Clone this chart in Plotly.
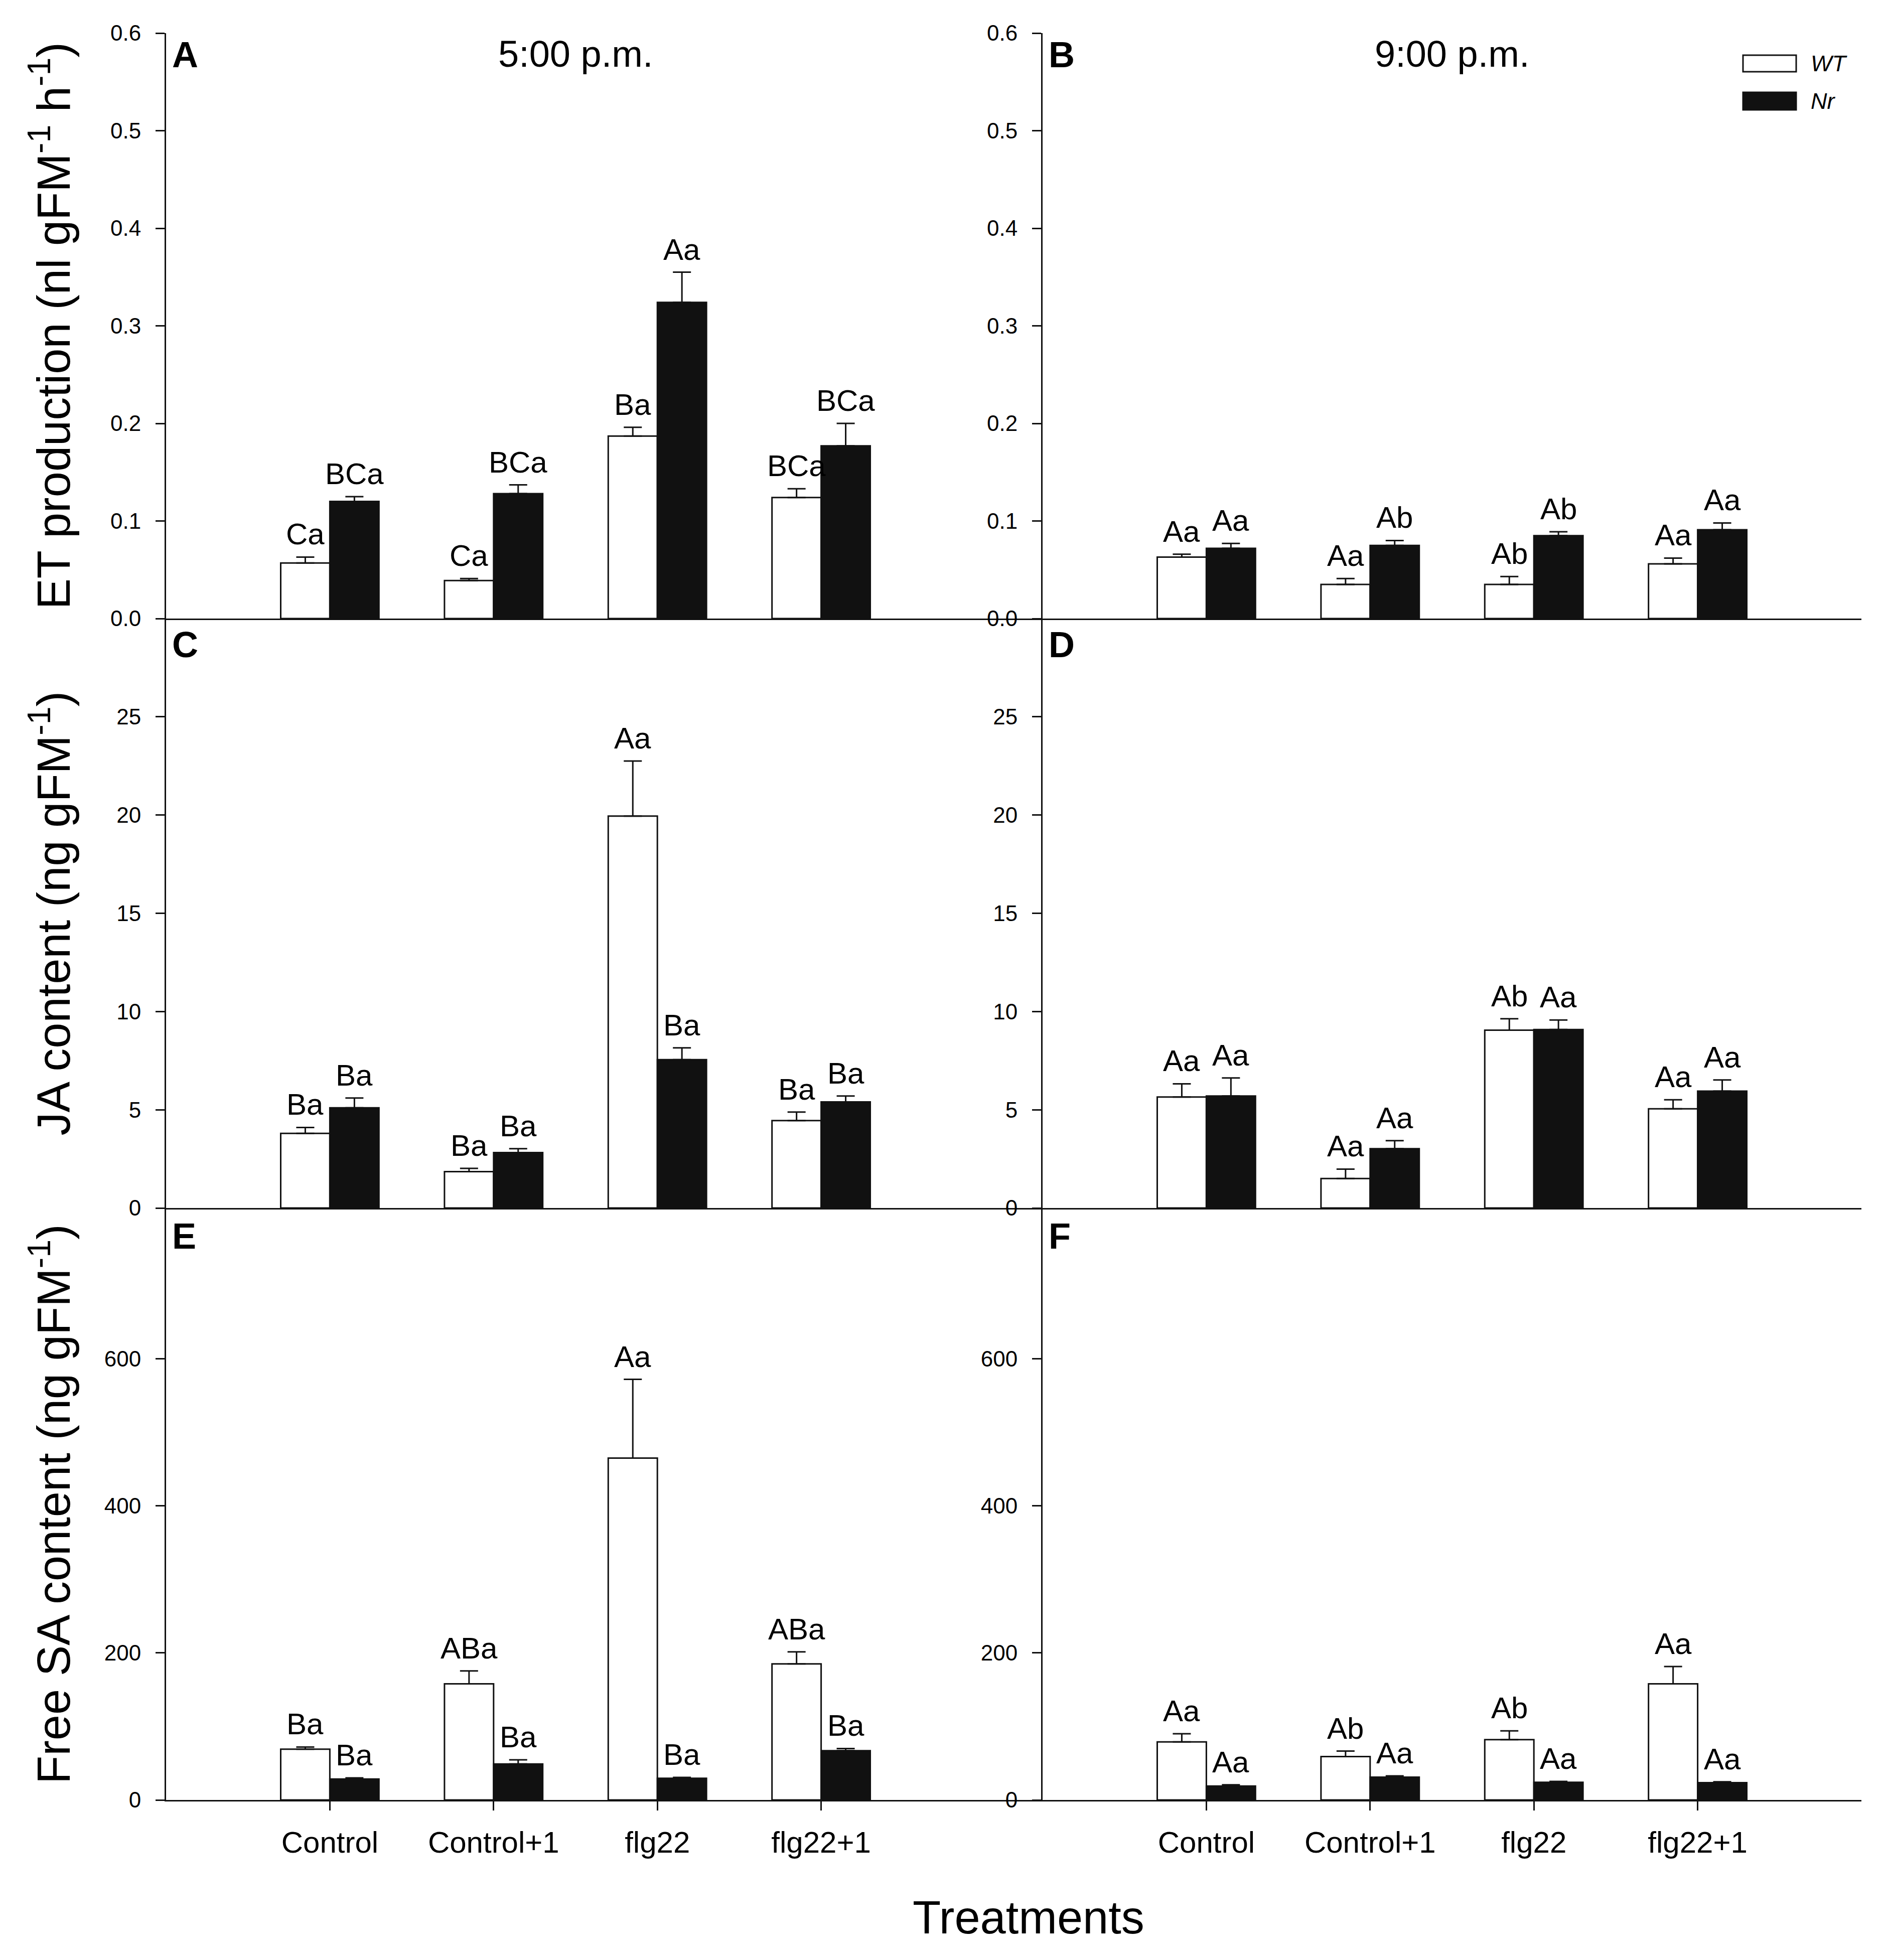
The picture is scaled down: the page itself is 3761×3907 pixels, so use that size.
import plotly.graph_objects as go
from plotly.subplots import make_subplots

# ---- data ----
categories = ["Control", "Control+1", "flg22", "flg22+1"]
xpos = [i + 1 for i in range(len(categories))]

# ET production (nl gFM-1 h-1)
et_5pm_wt = [0.057, 0.039, 0.187, 0.124]
et_5pm_wt_err = [0.006, 0.002, 0.009, 0.009]
et_5pm_nr = [0.120, 0.128, 0.324, 0.177]
et_5pm_nr_err = [0.005, 0.009, 0.031, 0.023]
et_9pm_wt = [0.063, 0.035, 0.035, 0.056]
et_9pm_wt_err = [0.003, 0.006, 0.008, 0.006]
et_9pm_nr = [0.072, 0.075, 0.085, 0.091]
et_9pm_nr_err = [0.005, 0.005, 0.004, 0.007]

# JA content (ng gFM-1)
ja_5pm_wt = [3.8, 1.85, 19.95, 4.45]
ja_5pm_wt_err = [0.3, 0.17, 2.8, 0.43]
ja_5pm_nr = [5.1, 2.82, 7.55, 5.4]
ja_5pm_nr_err = [0.5, 0.2, 0.6, 0.3]
ja_9pm_wt = [5.65, 1.5, 9.05, 5.05]
ja_9pm_wt_err = [0.67, 0.48, 0.58, 0.46]
ja_9pm_nr = [5.7, 3.02, 9.08, 5.95]
ja_9pm_nr_err = [0.92, 0.41, 0.49, 0.57]

# Free SA content (ng gFM-1)
sa_5pm_wt = [69, 158, 465, 185]
sa_5pm_wt_err = [3, 17.5, 107, 16.5]
sa_5pm_nr = [28.5, 49, 29.5, 67]
sa_5pm_nr_err = [1.5, 5.5, 1.2, 3]
sa_9pm_wt = [79, 59, 82, 158]
sa_9pm_wt_err = [11, 7.5, 12, 23.5]
sa_9pm_nr = [19, 31, 24, 23.5]
sa_9pm_nr_err = [1.6, 1.7, 1.2, 1.2]

# significance letters
et_5pm_wt_lbl = ["Ca", "Ca", "Ba", "BCa"]
et_5pm_nr_lbl = ["BCa", "BCa", "Aa", "BCa"]
et_9pm_wt_lbl = ["Aa", "Aa", "Ab", "Aa"]
et_9pm_nr_lbl = ["Aa", "Ab", "Ab", "Aa"]
ja_5pm_wt_lbl = ["Ba", "Ba", "Aa", "Ba"]
ja_5pm_nr_lbl = ["Ba", "Ba", "Ba", "Ba"]
ja_9pm_wt_lbl = ["Aa", "Aa", "Ab", "Aa"]
ja_9pm_nr_lbl = ["Aa", "Aa", "Aa", "Aa"]
sa_5pm_wt_lbl = ["Ba", "ABa", "Aa", "ABa"]
sa_5pm_nr_lbl = ["Ba", "Ba", "Ba", "Ba"]
sa_9pm_wt_lbl = ["Aa", "Ab", "Ab", "Aa"]
sa_9pm_nr_lbl = ["Aa", "Aa", "Aa", "Aa"]

# ---- layout constants (pixels of the 3761 x 3907 page) ----
W, H = 3761, 3907
OFF = 8  # default body margin of the html page
L, R, T, B = 331, 3710, 66, 3588
COL_SPLIT = 2078
ROW_SPLITS = [1233, 2408]
FONT = "Arial, Liberation Sans, sans-serif"
BAR_W = 0.3
BLACK = "#111111"


def px(x):
    return (x - L) / (R - L)


def py(y):
    return (B - y) / (B - T)


fig = make_subplots(
    rows=3, cols=2,
    column_widths=[COL_SPLIT - L, R - COL_SPLIT],
    row_heights=[ROW_SPLITS[0] - T, ROW_SPLITS[1] - ROW_SPLITS[0], B - ROW_SPLITS[1]],
    horizontal_spacing=0, vertical_spacing=0,
)

panels = [
    # row, col, wt, wt_err, nr, nr_err, wt_lbl, nr_lbl, letter
    (1, 1, et_5pm_wt, et_5pm_wt_err, et_5pm_nr, et_5pm_nr_err, et_5pm_wt_lbl, et_5pm_nr_lbl, "A"),
    (1, 2, et_9pm_wt, et_9pm_wt_err, et_9pm_nr, et_9pm_nr_err, et_9pm_wt_lbl, et_9pm_nr_lbl, "B"),
    (2, 1, ja_5pm_wt, ja_5pm_wt_err, ja_5pm_nr, ja_5pm_nr_err, ja_5pm_wt_lbl, ja_5pm_nr_lbl, "C"),
    (2, 2, ja_9pm_wt, ja_9pm_wt_err, ja_9pm_nr, ja_9pm_nr_err, ja_9pm_wt_lbl, ja_9pm_nr_lbl, "D"),
    (3, 1, sa_5pm_wt, sa_5pm_wt_err, sa_5pm_nr, sa_5pm_nr_err, sa_5pm_wt_lbl, sa_5pm_nr_lbl, "E"),
    (3, 2, sa_9pm_wt, sa_9pm_wt_err, sa_9pm_nr, sa_9pm_nr_err, sa_9pm_wt_lbl, sa_9pm_nr_lbl, "F"),
]

y_ranges = {1: [0, 0.6], 2: [0, 30], 3: [0, 805]}
y_ticks = {1: [0, 0.1, 0.2, 0.3, 0.4, 0.5, 0.6], 2: [0, 5, 10, 15, 20, 25], 3: [0, 200, 400, 600]}
letter_shift = {1: -43, 2: -52, 3: -56}
unit_px = (R - COL_SPLIT) / 5.0

for i, (row, col, wt, wt_err, nr, nr_err, wt_lbl, nr_lbl, letter) in enumerate(panels):
    k = i + 1
    xr = "x" if k == 1 else f"x{k}"
    yr = "y" if k == 1 else f"y{k}"

    fig.add_trace(go.Bar(
        x=xpos, y=wt, width=BAR_W, offset=-BAR_W, name="WT", showlegend=False,
        marker=dict(color="white", line=dict(color=BLACK, width=3)),
        error_y=dict(type="data", symmetric=False, array=wt_err, arrayminus=[0] * len(wt),
                     color=BLACK, thickness=3, width=18),
    ), row=row, col=col)
    fig.add_trace(go.Bar(
        x=xpos, y=nr, width=BAR_W, offset=0, name="Nr", showlegend=False,
        marker=dict(color=BLACK, line=dict(color=BLACK, width=3)),
        error_y=dict(type="data", symmetric=False, array=nr_err, arrayminus=[0] * len(nr),
                     color=BLACK, thickness=3, width=18),
    ), row=row, col=col)

    # significance letters above each error bar
    for vals, errs, lbls, dx in ((wt, wt_err, wt_lbl, -BAR_W / 2),
                                 (nr, nr_err, nr_lbl, BAR_W / 2)):
        for xv, v, e, t in zip(xpos, vals, errs, lbls):
            fig.add_annotation(x=xv + dx, y=v + e, xref=xr, yref=yr, text=t,
                               showarrow=False, yanchor="bottom", yshift=10,
                               font=dict(family=FONT, size=60, color="black"))

    # panel letter
    fig.add_annotation(x=0, y=1, xref=f"{xr} domain", yref=f"{yr} domain", text=f"<b>{letter}</b>",
                       showarrow=False, xanchor="left", yanchor="middle", xshift=10,
                       yshift=letter_shift[row], font=dict(family=FONT, size=72, color="black"))

    xrange = [0, (COL_SPLIT - L) / unit_px] if col == 1 else [0, 5]
    bottom = row == 3
    fig.update_xaxes(
        range=xrange, showline=True, linecolor=BLACK, linewidth=3, showgrid=False, zeroline=False,
        tickvals=xpos, ticktext=categories, showticklabels=bottom,
        ticks="outside" if bottom else "", ticklen=18, tickwidth=3, tickcolor=BLACK,
        ticklabelstandoff=12, tickfont=dict(family=FONT, size=60, color="black"),
        row=row, col=col,
    )
    ticktext = [f"{v:.1f}" for v in y_ticks[row]] if row == 1 else [str(v) for v in y_ticks[row]]
    fig.update_yaxes(
        range=y_ranges[row], showline=True, linecolor=BLACK, linewidth=3, showgrid=False, zeroline=False,
        tickvals=y_ticks[row], ticktext=ticktext, ticks="outside", ticklen=18, tickwidth=3,
        tickcolor=BLACK, ticklabelstandoff=20, tickfont=dict(family=FONT, size=44, color="black"),
        row=row, col=col,
    )

# time titles
fig.add_annotation(x=2.5, y=1, xref="x", yref="y domain", text="5:00 p.m.", showarrow=False,
                   yanchor="middle", yshift=-41, font=dict(family=FONT, size=74, color="black"))
fig.add_annotation(x=2.5, y=1, xref="x2", yref="y2 domain", text="9:00 p.m.", showarrow=False,
                   yanchor="middle", yshift=-41, font=dict(family=FONT, size=74, color="black"))

# y-axis titles
y_titles = [
    ("y", "ET production (nl gFM<sup>-1</sup> h<sup>-1</sup>)"),
    ("y3", "JA content (ng gFM<sup>-1</sup>)"),
    ("y5", "Free SA content (ng gFM<sup>-1</sup>)"),
]
for yr, txt in y_titles:
    fig.add_annotation(x=px(100), y=0.5, xref="paper", yref=f"{yr} domain", text=txt,
                       textangle=-90, showarrow=False, xanchor="center", yanchor="middle",
                       font=dict(family=FONT, size=92, color="black"))

# x-axis title
fig.add_annotation(x=px(2050), y=py(3822), xref="paper", yref="paper", text="Treatments",
                   showarrow=False, xanchor="center", yanchor="middle",
                   font=dict(family=FONT, size=92, color="black"))

# legend (drawn by hand to match the boxed swatches)
legend_items = [("WT", "white", 110, 143), ("Nr", BLACK, 184, 219)]
for name, fill, top, bot in legend_items:
    fig.add_shape(type="rect", xref="paper", yref="paper",
                  x0=px(3474), x1=px(3580), y0=py(bot), y1=py(top),
                  fillcolor=fill, line=dict(color=BLACK, width=3))
    fig.add_annotation(x=px(3607), y=py((top + bot) / 2), xref="paper", yref="paper",
                       text=f"<i>{name}</i>", showarrow=False, xanchor="left", yanchor="middle",
                       font=dict(family=FONT, size=45, color="black"))

fig.update_layout(
    width=W - 2 * OFF, height=H - 2 * OFF, barmode="overlay",
    margin=dict(l=L - OFF, r=(W - OFF) - R, t=T - OFF, b=(H - OFF) - B, autoexpand=False),
    plot_bgcolor="white", paper_bgcolor="white",
    font=dict(family=FONT, color="black"),
    showlegend=False,
)

fig.write_html("out.html")
